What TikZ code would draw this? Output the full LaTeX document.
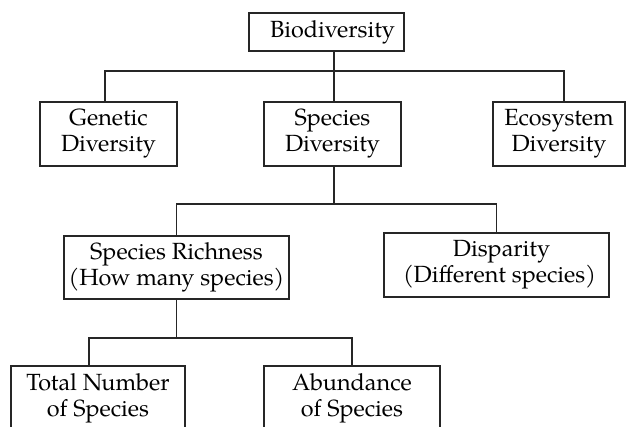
\documentclass[tikz,border=0pt]{standalone}
\usepackage{fontspec}
\setmainfont{texgyrepagella}[Extension=.otf,UprightFont=*-regular]
\usepackage{tikz}
\tikzstyle{box}=[draw=black!85,line width=1.5pt,align=center,inner sep=0pt,minimum height=64pt,font=\fontsize{23.4}{26}\selectfont]
\tikzstyle{edge} = [draw=black!85,line width=1.5pt,-]

\begin{document}
\begin{tikzpicture}[x=1pt,y=-1pt]
        \clip (0,0) rectangle (626,427);
        \node[box,minimum width=155pt,minimum height=38pt] (bio) at (326.5,32) {\hspace*{12pt}Biodiversity};
        \node[box,minimum width=137pt] (gen) at (108.5,134) {Genetic\\Diversity};
        \node[box,minimum width=137pt] (spd) at (332.5,134) {Species\\Diversity};
        \node[box,minimum width=132pt] (eco) at (559,134) {Ecosystem\\Diversity};
        \node[box,minimum width=225pt,minimum height=63pt] (rich) at (176.5,267.5) {Species Richness\\(How many species)};
        \node[box,minimum width=225pt] (disp) at (496.5,265) {\hspace*{10pt}Disparity\\\hspace*{6pt}(Different species)};
        \node[box,minimum width=174pt] (tot) at (98,398) {Total Number\\of Species};
        \node[box,minimum width=176pt] (abun) at (352,398) {Abundance\\of Species};
        \coordinate (top) at (334,71);
        \coordinate (mid) at (334,204);
        \coordinate (low) at (176.5,338);
        \path[edge] ([xshift=1.5pt]spd.north) -- (bio.south -| top);
        \path[edge] ([xshift=-3.5pt]gen.north) |- (top) -| ([xshift=5pt]eco.north);
        \path[edge] ([xshift=1.5pt]spd.south) -- (mid);
        \path[edge] (rich.north) |- (mid) -| (disp.north);
        \path[edge] (rich.south) -- (low);
        \path[edge] ([xshift=-9pt]tot.north) |- (low) -| (abun.north);
    \end{tikzpicture}
\end{document}
